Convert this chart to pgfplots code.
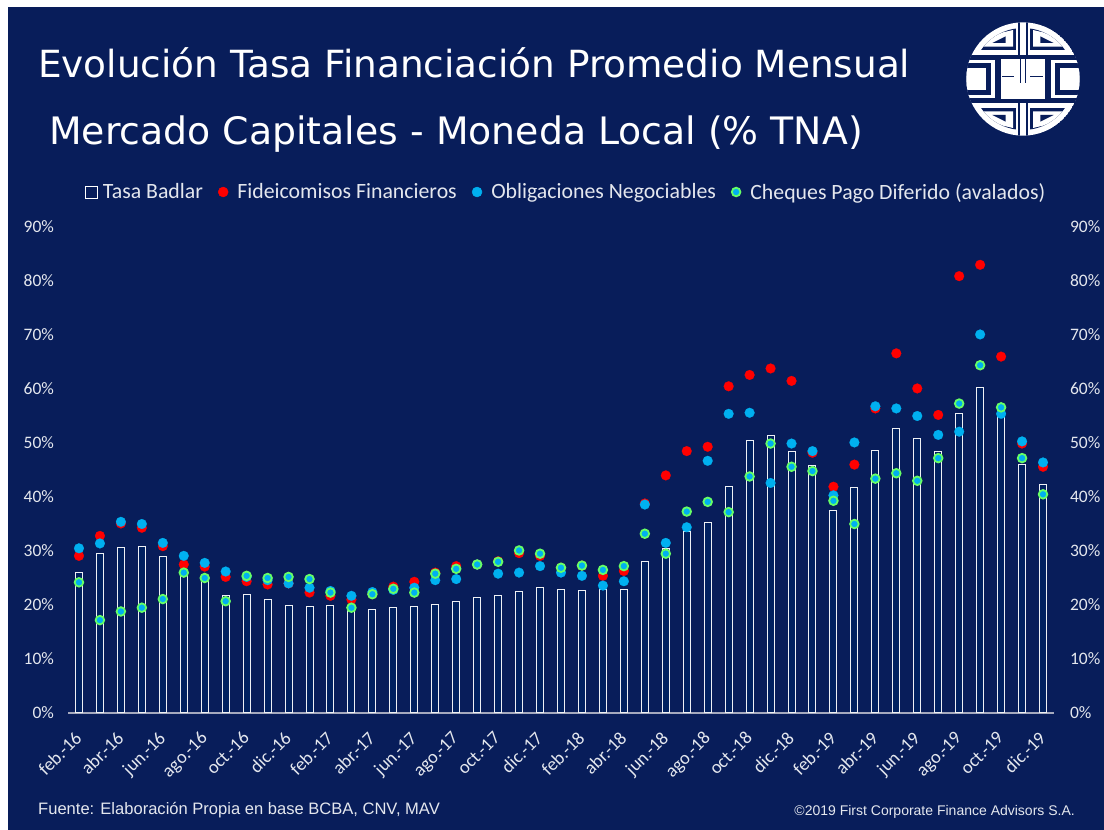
\documentclass[border=0pt]{standalone}
\usepackage{fontspec}
\setmainfont{Carlito}
\newfontfamily\titlefont{DejaVu Sans}
\newfontfamily\footfont{Liberation Sans}
\usepackage{pgfplots}
\usepackage{pgfplotstable}
\pgfplotsset{compat=1.18}
\definecolor{navy}{RGB}{8,29,90}
\definecolor{barfill}{RGB}{0,32,96}
\definecolor{barline}{RGB}{238,240,245}
\definecolor{txt}{RGB}{228,231,238}
\definecolor{redm}{RGB}{255,0,0}
\definecolor{bluem}{RGB}{0,176,240}
\definecolor{greenm}{RGB}{102,255,102}
\definecolor{baseln}{RGB}{166,170,190}
\pgfplotstableread{
x badlar fid on cheq
0 26.1 29.1 30.5 24.2
1 29.6 32.8 31.4 17.2
2 30.7 35.1 35.4 18.8
3 30.9 34.3 35.0 19.5
4 28.9 30.9 31.5 21.1
5 25.9 27.5 29.1 26.0
6 24.8 27.1 27.8 25.0
7 21.7 25.2 26.2 20.7
8 22.0 24.4 25.2 25.4
9 21.1 23.8 24.6 25.0
10 19.9 24.0 24.0 25.2
11 19.7 22.3 23.2 24.8
12 19.9 21.7 22.6 22.3
13 19.3 21.0 21.7 19.5
14 19.1 22.0 22.4 22.0
15 19.5 23.4 22.8 23.0
16 19.7 24.3 23.2 22.3
17 20.1 26.0 24.6 25.8
18 20.7 27.2 24.8 26.7
19 21.3 27.5 27.5 27.5
20 21.7 28.1 25.8 28.0
21 22.5 29.6 26.0 30.1
22 23.2 29.1 27.2 29.5
23 22.8 26.9 26.0 26.9
24 22.7 27.3 25.4 27.3
25 22.8 25.4 23.6 26.5
26 22.8 26.3 24.4 27.2
27 28.1 38.8 38.6 33.2
28 30.4 44.0 31.5 29.5
29 33.7 48.5 34.4 37.3
30 35.2 49.3 46.7 39.1
31 41.9 60.5 55.4 37.2
32 50.4 62.6 55.6 43.8
33 51.3 63.8 42.6 49.9
34 48.5 61.5 49.9 45.6
35 45.8 48.2 48.5 44.8
36 37.5 41.9 40.3 39.3
37 41.7 46.0 50.1 35.0
38 48.7 56.4 56.8 43.4
39 52.6 66.6 56.4 44.4
40 50.9 60.1 55.0 43.0
41 48.5 55.2 51.5 47.2
42 55.4 80.9 52.1 57.3
43 60.3 83.0 70.1 64.4
44 55.4 66.0 55.4 56.6
45 46.0 49.9 50.3 47.2
46 42.3 45.6 46.4 40.5
}\datatable
\begin{document}
\begin{tikzpicture}[x=1pt,y=1pt]
\fill[white] (0,0) rectangle (1104,830);
\fill[navy] (8,0) rectangle (1104,823);
% title
\node[anchor=base west,text=white,font=\titlefont\fontsize{37.4}{37.4}\selectfont,inner sep=0pt] at (38,752) {Evolución Tasa Financiación Promedio Mensual};
\node[anchor=base west,text=white,font=\titlefont\fontsize{37.8}{37.8}\selectfont,inner sep=0pt] at (49,685) {Mercado Capitales - Moneda Local (\% TNA)};
% footer
\node[anchor=base west,text=txt,font=\footfont\fontsize{16.55}{16.55}\selectfont,inner sep=0pt] at (38,15) {Fuente: Elaboración Propia en base BCBA, CNV, MAV};
\node[anchor=base east,text=txt,font=\footfont\fontsize{14}{14}\selectfont,inner sep=0pt] at (1075,14) {©2019 First Corporate Finance Advisors S.A.};
% logo
\begin{scope}[shift={(1023,751)},x=0.3333pt,y=-0.3333pt]
\begin{scope}
\clip (0,0) circle (170);
\fill[white] (0,0) circle (170);
\foreach \sx/\sy in {1/1,-1/1,1/-1,-1/-1}{
\begin{scope}[xscale=\sx,yscale=\sy]
\fill[navy] (-15,-175) rectangle (-9,-64);
\fill[navy] (-175,-72) rectangle (175,-60);
\begin{scope}
\clip (0,0) circle (153);
\fill[navy] (-170,-170) rectangle (-20,-86);
\fill[white] (-122,-97) -- (-30,-97) -- (-30,-147) -- (-60,-140) -- (-95,-125) -- cycle;
\fill[navy] (-92,-108) -- (-52,-108) -- (-52,-128) -- cycle;
\end{scope}
\fill[navy] (-175,-62) rectangle (-65,62);
\fill[white] (-172,-57) rectangle (-85,-47);
\fill[white] (-172,47) rectangle (-85,57);
\fill[white] (-95,-57) rectangle (-85,57);
\fill[white] (-172,-32) rectangle (-110,32);
\end{scope}}
\end{scope}
\fill[navy] (-62,-10) rectangle (-28,-6);
\fill[navy] (20,-10) rectangle (60,-6);
\fill[navy] (-9,-60) rectangle (-5,12);
\fill[navy] (9,-60) rectangle (5,12);
\end{scope}
\begin{axis}[
 at={(68.5pt,117pt)},anchor=south west,
 scale only axis,width=985pt,height=486pt,
 xmin=-0.5,xmax=46.5,ymin=0,ymax=90,
 axis x line*=bottom,axis y line*=left,
 x axis line style={baseln,line width=1.5pt,-},
 y axis line style={draw=none,-},
 ytick={0,10,...,90},
 yticklabel={\pgfmathprintnumber{\tick}\%},
 /pgf/number format/assume math mode=true,
 tick style={draw=none},
 ticklabel style={text=txt,font=\fontsize{17.5}{17.5}\selectfont},
 yticklabel style={xshift=-11pt},
 xtick={0,2,...,46},
 xticklabels={feb.-16,abr.-16,jun.-16,ago.-16,oct.-16,dic.-16,feb.-17,abr.-17,jun.-17,ago.-17,oct.-17,dic.-17,feb.-18,abr.-18,jun.-18,ago.-18,oct.-18,dic.-18,feb.-19,abr.-19,jun.-19,ago.-19,oct.-19,dic.-19},
 xticklabel style={rotate=45,anchor=north east,xshift=-12.5pt,yshift=-5pt,font=\fontsize{18.5}{18.5}\selectfont},
 clip=false,
 legend columns=4,
 legend style={anchor=west,at={(axis description cs:0.0175,1.072)},draw=none,fill=none,text=txt,font=\fontsize{21.8}{21.8}\selectfont,
   /tikz/every even column/.append style={column sep=13pt},
   /tikz/every odd column/.append style={column sep=0pt}},
]
\addplot[ybar,bar width=7pt,bar shift=0pt,draw=barline,fill=barfill,line width=1pt,
  legend image code/.code={\path[draw=none,fill=none] (0pt,-5pt) rectangle (12pt,5pt);\draw[white,fill=navy,line width=1pt,overlay] (-3pt,-6pt) rectangle (9pt,6pt);}]
  table[x=x,y=badlar]{\datatable};
\addlegendentry{Tasa Badlar}
\addplot[only marks,mark=*,mark size=4.9pt,mark options={draw=redm,fill=redm,line width=0.2pt},
  legend image code/.code={\fill[redm] (0pt,0pt) circle (5pt);\path (12pt,0pt);}] table[x=x,y=fid]{\datatable};
\addlegendentry{Fideicomisos Financieros}
\addplot[only marks,mark=*,mark size=4.9pt,mark options={draw=bluem,fill=bluem,line width=0.2pt},
  legend image code/.code={\fill[bluem] (0pt,0pt) circle (5pt);\path (12pt,0pt);}] table[x=x,y=on]{\datatable};
\addlegendentry{Obligaciones Negociables}
\addplot[only marks,mark=*,mark size=4.3pt,mark options={draw=greenm,fill=bluem,line width=1.8pt},
  legend image code/.code={\draw[greenm,fill=bluem,line width=1.8pt] (0pt,0pt) circle (4.3pt);\path (12pt,0pt);}] table[x=x,y=cheq]{\datatable};
\addlegendentry{Cheques Pago Diferido (avalados)}
\end{axis}
\begin{axis}[
 at={(68.5pt,117pt)},anchor=south west,
 scale only axis,width=985pt,height=486pt,
 xmin=-0.5,xmax=46.5,ymin=0,ymax=90,
 axis x line=none,axis y line*=right,
 y axis line style={draw=none,-},
 ytick={0,10,...,90},
 yticklabel={\pgfmathprintnumber{\tick}\%},
 /pgf/number format/assume math mode=true,
 tick style={draw=none},
 ticklabel style={text=txt,font=\fontsize{17.5}{17.5}\selectfont},
 yticklabel style={xshift=13pt},
]
\addplot[draw=none,forget plot] coordinates {(0,0)};
\end{axis}
\end{tikzpicture}
\end{document}
